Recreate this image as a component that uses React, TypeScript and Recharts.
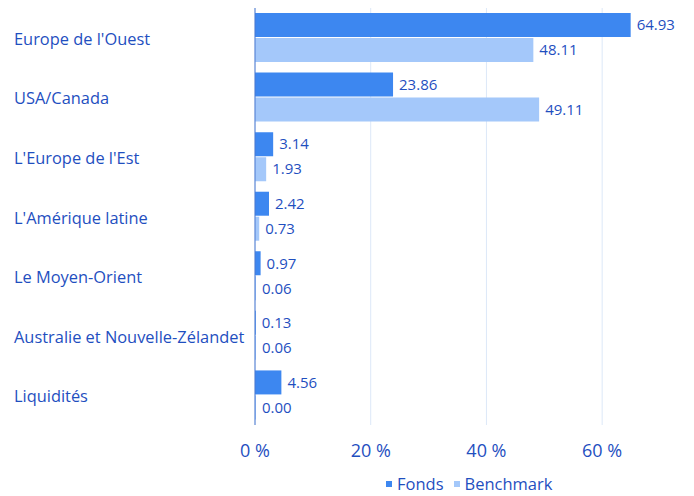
import { Bar, BarChart, CartesianGrid, LabelList, Legend, XAxis, YAxis } from "recharts";

const regions = [
  "Europe de l'Ouest",
  "USA/Canada",
  "L'Europe de l'Est",
  "L'Amérique latine",
  "Le Moyen-Orient",
  "Australie et Nouvelle-Zélandet",
  "Liquidités",
];
const fonds = [64.93, 23.86, 3.14, 2.42, 0.97, 0.13, 4.56];
const benchmark = [48.11, 49.11, 1.93, 0.73, 0.06, 0.06, 0.0];
const xTicks = [0, 20, 40, 60];
const xMax = 70;
const seriesNames = ["Fonds", "Benchmark"];

const data = regions.map((name, i) => ({ name, fonds: fonds[i], benchmark: benchmark[i] }));

const textColor = "#1f4fbf";
const fondsColor = "#3d87f0";
const benchColor = "#a4c8fa";
const font = "'Open Sans', 'Noto Sans', sans-serif";

function RegionTick(props: any) {
  const { y, payload } = props;
  return (
    <text x={14} y={y} dy={7} fill={textColor} fontSize={16.4} fontFamily={font} textAnchor="start">
      {payload.value}
    </text>
  );
}

function LegendBox() {
  const colors = [fondsColor, benchColor];
  return (
    <div
      style={{
        display: "flex",
        alignItems: "center",
        marginLeft: 386,
        paddingTop: 6,
        height: 25,
        lineHeight: "22px",
        fontSize: 16.5,
        fontFamily: font,
        color: textColor,
      }}
    >
      {seriesNames.map((n, i) => (
        <span key={n} style={{ display: "flex", alignItems: "center", marginRight: 10 }}>
          <span style={{ width: 6, height: 6, background: colors[i], marginRight: 5 }} />
          {n}
        </span>
      ))}
    </div>
  );
}

const fmt = (v: any) => Number(v).toFixed(2);

// grid only at the labelled ticks, not at the domain end
const gridX = ({ offset }: any) =>
  xTicks.map((t) => offset.left + (t / xMax) * offset.width);

export default function App() {
  return (
    <div style={{ position: "absolute", left: 0, top: 0 }}>
      <BarChart
        width={694}
        height={496}
        data={data}
        layout="vertical"
        margin={{ top: 8, right: 34, bottom: 0, left: 0 }}
        barSize={24}
        barGap={1}
      >
        <CartesianGrid horizontal={false} stroke="#dce8f8" verticalCoordinatesGenerator={gridX} />
        <XAxis
          type="number"
          domain={[0, xMax]}
          ticks={xTicks}
          tickFormatter={(v) => `${v} %`}
          axisLine={false}
          tickLine={false}
          tick={{ fill: textColor, fontSize: 18, fontFamily: font }}
          tickMargin={13}
          height={40}
        />
        <YAxis
          type="category"
          dataKey="name"
          width={255}
          tick={<RegionTick />}
          tickLine={false}
          axisLine={{ stroke: "#4a78cf" }}
        />
        <Legend verticalAlign="bottom" content={<LegendBox />} />
        <Bar dataKey="fonds" name="Fonds" fill={fondsColor} isAnimationActive={false}>
          <LabelList
            dataKey="fonds"
            position="right"
            offset={6}
            formatter={fmt}
            style={{ fill: textColor, fontSize: 15, fontFamily: font }}
          />
        </Bar>
        <Bar dataKey="benchmark" name="Benchmark" fill={benchColor} minPointSize={1} isAnimationActive={false}>
          <LabelList
            dataKey="benchmark"
            position="right"
            offset={6}
            formatter={fmt}
            style={{ fill: textColor, fontSize: 15, fontFamily: font }}
          />
        </Bar>
      </BarChart>
    </div>
  );
}
